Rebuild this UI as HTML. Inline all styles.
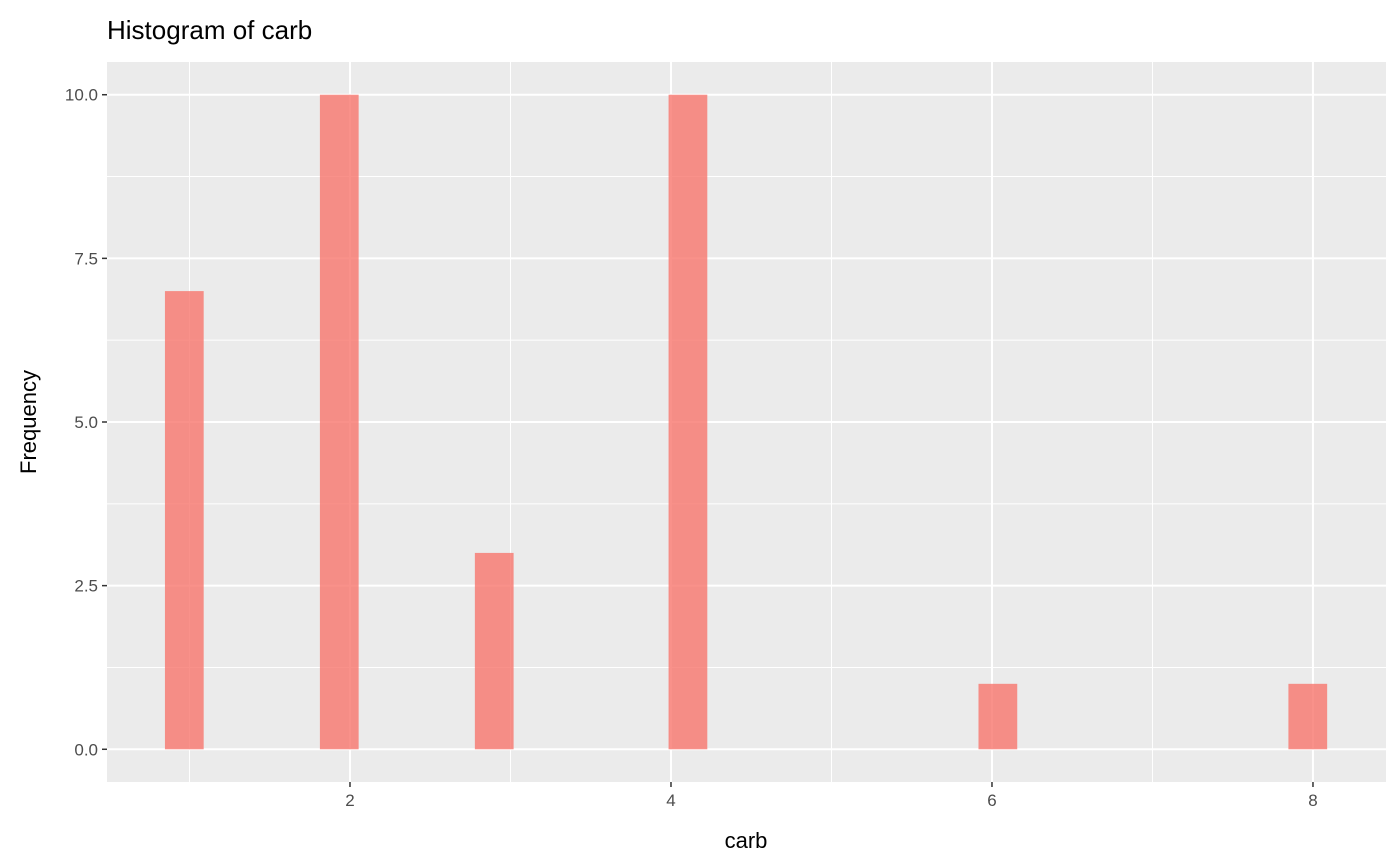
<!DOCTYPE html>
<html><head><meta charset="utf-8"><style>
body{margin:0;background:#fff;}
svg{display:block;font-family:"Liberation Sans",Arial,sans-serif;}
</style></head><body>
<svg id="chart" width="1400" height="866">
<text x="107" y="39" font-size="26" fill="#000">Histogram of carb</text>
<rect x="107" y="62" width="1279" height="720" fill="#EBEBEB"/>
<g id="grid"></g>
<g id="bars"></g>
<g id="axes"></g>
<text x="746" y="848" font-size="22" text-anchor="middle" fill="#000">carb</text>
<text transform="translate(36,422) rotate(-90)" font-size="22" text-anchor="middle" fill="#000">Frequency</text>
</svg>
<script>
const categories=[1,2,3,4,6,8];
const counts=[7,10,3,10,1,1];
const xTicks=[2,4,6,8];
const xMinor=[1,3,5,7];
const yTicks=[0,2.5,5,7.5,10];
const yTickLabels=["0.0","2.5","5.0","7.5","10.0"];
const yMinor=[1.25,3.75,6.25,8.75];
const binwidth=7/29;
const binOrigin=0.847;
const px0=107,px1=1386,py0=62,py1=782;
const xd=[0.486,8.455],yd=[-0.5,10.5];
const X=v=>px0+(v-xd[0])/(xd[1]-xd[0])*(px1-px0);
const Y=v=>py1-(v-yd[0])/(yd[1]-yd[0])*(py1-py0);
const NS="http://www.w3.org/2000/svg";
function mk(tag,attrs,parent){const e=document.createElementNS(NS,tag);for(const k in attrs)e.setAttribute(k,attrs[k]);parent.appendChild(e);return e;}
const grid=document.getElementById('grid'),bars=document.getElementById('bars'),axes=document.getElementById('axes');
yMinor.forEach(v=>{const l=mk('line',{x1:px0,x2:px1,y1:Y(v),y2:Y(v),stroke:'#fff','stroke-width':1},grid);

});
xMinor.forEach(v=>{const l=mk('line',{x1:X(v),x2:X(v),y1:py0,y2:py1,stroke:'#fff','stroke-width':1},grid);

});
yTicks.forEach((v,i)=>{const l=mk('line',{x1:px0,x2:px1,y1:Y(v),y2:Y(v),stroke:'#fff','stroke-width':2},grid);


const t=mk('line',{x1:px0-5,x2:px0,y1:Y(v),y2:Y(v),stroke:'#333','stroke-width':1.5},axes);


const tx=mk('text',{x:px0-9,y:Y(v)+6,'font-size':17,'text-anchor':'end',fill:'#4D4D4D'},axes);
tx.textContent=yTickLabels[i];

});
xTicks.forEach(v=>{const l=mk('line',{x1:X(v),x2:X(v),y1:py0,y2:py1,stroke:'#fff','stroke-width':2},grid);


const t=mk('line',{x1:X(v),x2:X(v),y1:py1,y2:py1+5,stroke:'#333','stroke-width':1.5},axes);


const tx=mk('text',{x:X(v),y:py1+24,'font-size':17,'text-anchor':'middle',fill:'#4D4D4D'},axes);
tx.textContent=String(v);

});
categories.forEach((c,i)=>{const k=Math.floor((c-binOrigin)/binwidth);const l=binOrigin+k*binwidth,r=l+binwidth;
const b=mk('rect',{x:X(l),y:Y(counts[i]),width:X(r)-X(l),height:Y(0)-Y(counts[i]),fill:'#F8766D','fill-opacity':0.8},bars);

});
</script>
</body></html>
